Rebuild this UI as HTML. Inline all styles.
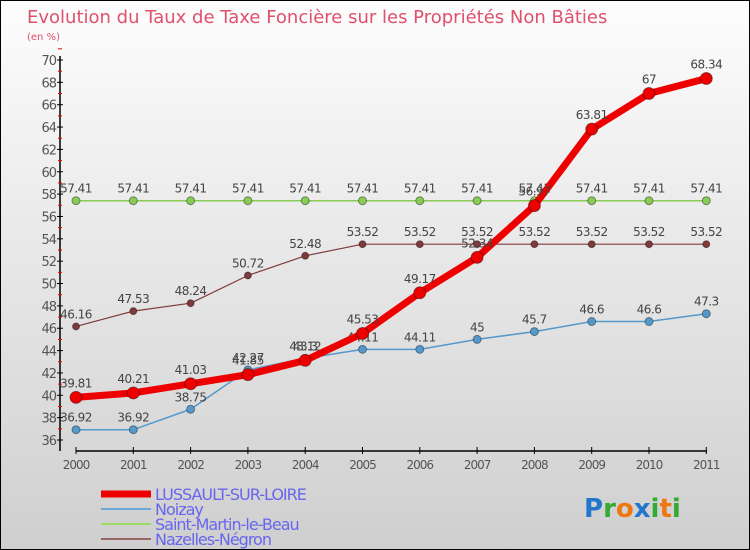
<!DOCTYPE html>
<html><head><meta charset="utf-8"><style>
body{margin:0}
#c{width:748px;height:548px;border:1px solid #000;background:linear-gradient(#fdfdfd,#cfcfcf);position:relative;font-family:"DejaVu Sans","Liberation Sans",sans-serif}
</style></head><body>
<div id="c">
<svg id="s" width="748" height="548" style="position:absolute;left:0;top:0">
<text x="26" y="22" font-size="18" fill="#e0506a">Evolution du Taux de Taxe Foncière sur les Propriétés Non Bâties</text>
<text x="26" y="39" font-size="10" fill="#e0506a">(en %)</text>
</svg>
</div>
<script>
const years=[2000,2001,2002,2003,2004,2005,2006,2007,2008,2009,2010,2011];
const lussault=[39.81,40.21,41.03,41.85,43.12,45.53,49.17,52.34,56.97,63.81,67,68.34];
const noizay=[36.92,36.92,38.75,42.27,43.3,44.11,44.11,45,45.7,46.6,46.6,47.3];
const stmartin=[57.41,57.41,57.41,57.41,57.41,57.41,57.41,57.41,57.41,57.41,57.41,57.41];
const nazelles=[46.16,47.53,48.24,50.72,52.48,53.52,53.52,53.52,53.52,53.52,53.52,53.52];
const yTicks=[36,38,40,42,44,46,48,50,52,54,56,58,60,62,64,66,68,70];
const s=document.getElementById('s'),NS='http://www.w3.org/2000/svg';
const X=i=>75+i*57.3, Y=v=>59+(70-v)*(380/34);
function el(t,a,p){const e=document.createElementNS(NS,t);for(const k in a)e.setAttribute(k,a[k]);(p||s).appendChild(e);return e;}
let ax=el('line',{x1:59,y1:55,x2:59,y2:450,stroke:'#000','stroke-width':1.5});

let xa=el('line',{x1:75,y1:450,x2:706,y2:450,stroke:'#000','stroke-width':1.5});

yTicks.forEach(v=>{el('line',{x1:56,x2:62,y1:Y(v),y2:Y(v),stroke:'#000'});
 el('line',{x1:57,x2:61,y1:Y(v+1),y2:Y(v+1),stroke:'#e00'});
 let t=el('text',{x:55,y:Y(v)+5,'text-anchor':'end','font-size':13,fill:'#555','letter-spacing':'-1'});t.textContent=v;
 });
years.forEach((y,i)=>{el('line',{x1:X(i),x2:X(i),y1:446,y2:453,stroke:'#000'});
 let t=el('text',{x:X(i),y:468,'text-anchor':'middle','font-size':12,fill:'#555','letter-spacing':'-1'});t.textContent=y;
 });
function series(d,col,w,r,name,dy){
 let g=el('g',{});
 el('polyline',{points:d.map((v,i)=>X(i)+','+Y(v)).join(' '),fill:'none',stroke:col,'stroke-width':w,'stroke-linejoin':'round'},g);
 d.forEach((v,i)=>{let c=el('circle',{cx:X(i),cy:Y(v),r:r,fill:col,stroke:'rgba(0,0,0,0.4)','stroke-width':1},g);
  
  let t=el('text',{x:X(i),y:Y(v)+dy,'text-anchor':'middle','font-size':12,fill:'#444','letter-spacing':'-0.5'},g);t.textContent=v;});
}
series(stmartin,'#88cc55',1.5,4,'series-saint-martin',-8);
series(nazelles,'#803a3a',1.2,3.5,'series-nazelles',-8);
series(noizay,'#5599cc',1.5,4,'series-noizay',-8);
series(lussault,'#ee0000',7,6,'series-lussault',-10);
const leg=[['LUSSAULT-SUR-LOIRE','#ee0000',7],['Noizay','#6aa8d8',2],['Saint-Martin-le-Beau','#99dd66',2],['Nazelles-Négron','#996666',2]];
leg.forEach((l,i)=>{let y=493+i*15;let g=el('g',{});
 el('line',{x1:100,x2:150,y1:y,y2:y,stroke:l[1],'stroke-width':l[2]},g);
 let t=el('text',{x:154,y:y+6,'font-size':16,fill:'#6666ee','letter-spacing':'-1'},g);t.textContent=l[0];});
let lg=el('text',{x:583,y:516,'font-size':26,'font-weight':'bold'});
[['P','#2277cc'],['r','#33aa33'],['o','#ee7711'],['x','#2277cc'],['i','#33aa33'],['t','#ee7711'],['i','#33aa33']].forEach(p=>{let ts=el('tspan',{fill:p[1]},lg);ts.textContent=p[0];});
</script>
</body></html>
